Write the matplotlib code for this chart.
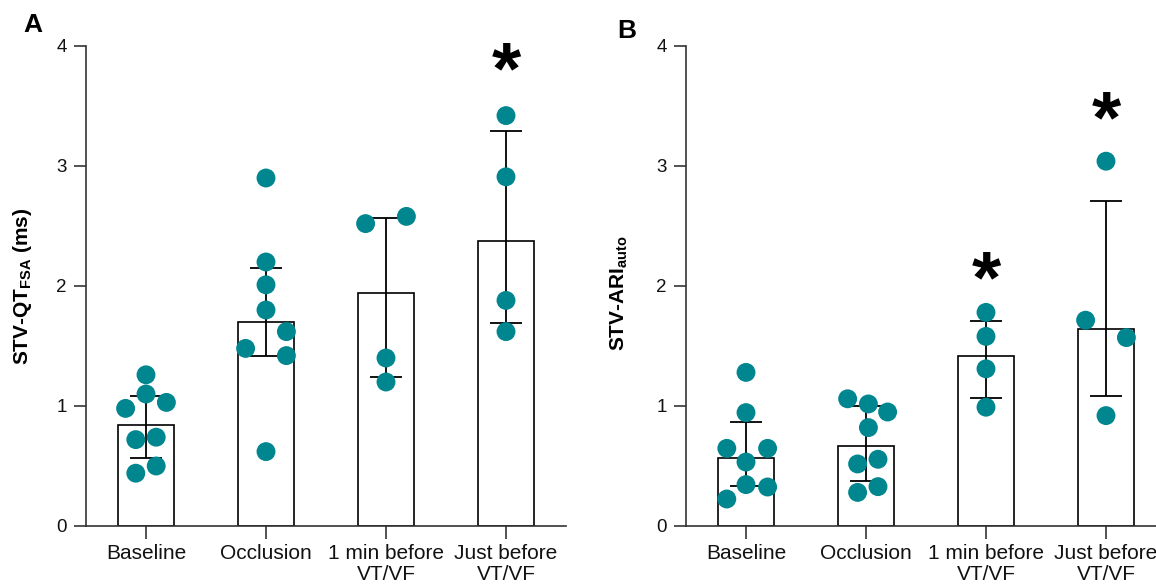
import matplotlib
matplotlib.use("Agg")
import matplotlib.pyplot as plt
import numpy as np

plt.rcParams['font.family'] = ['Liberation Sans', 'DejaVu Sans']
plt.rcParams['mathtext.fontset'] = 'custom'
plt.rcParams['mathtext.rm'] = 'Liberation Sans'
plt.rcParams['mathtext.bf'] = 'Liberation Sans:bold'

# ---------------- data ----------------
categories = ["Baseline", "Occlusion", "1 min before\nVT/VF", "Just before\nVT/VF"]

# Panel A: STV-QT_FSA (ms)
mean_A = [0.845, 1.70, 1.94, 2.375]
err_lo_A = [0.57, 1.42, 1.24, 1.69]
err_hi_A = [1.08, 2.15, 2.57, 3.29]
pts_A_baseline = [1.26, 1.10, 0.98, 1.03, 0.72, 0.74, 0.44, 0.50]
pts_A_occlusion = [2.90, 2.20, 2.01, 1.80, 1.62, 1.48, 1.42, 0.62]
pts_A_1min = [2.52, 2.58, 1.40, 1.20]
pts_A_just = [3.42, 2.91, 1.88, 1.62]
sig_A = [None, None, None, 3.90]

# Panel B: STV-ARI_auto
mean_B = [0.567, 0.664, 1.42, 1.64]
err_lo_B = [0.333, 0.378, 1.067, 1.087]
err_hi_B = [0.865, 1.00, 1.71, 2.71]
pts_B_baseline = [1.28, 0.945, 0.647, 0.647, 0.533, 0.345, 0.325, 0.225]
pts_B_occlusion = [1.06, 1.017, 0.95, 0.82, 0.556, 0.517, 0.328, 0.28]
pts_B_1min = [1.78, 1.58, 1.31, 0.99]
pts_B_just = [3.04, 1.715, 1.57, 0.92]
sig_B = [None, None, 2.16, 3.49]

# horizontal scatter offsets (layout)
jit_A = [[0, 0, -0.17, 0.17, -0.085, 0.085, -0.085, 0.085],
         [0, 0, 0, 0, 0.17, -0.17, 0.17, 0],
         [-0.17, 0.17, 0, 0],
         [0, 0, 0, 0]]
jit_B = [[0, 0, -0.16, 0.18, 0, 0, 0.18, -0.16],
         [-0.153, 0.02, 0.18, 0.02, 0.10, -0.07, 0.10, -0.07],
         [0, 0, 0, 0],
         [0, -0.17, 0.17, 0]]

TEAL = '#00868F'
SPINE = '#333333'
STAR_FS = 54

W, H = 1156, 588
fig = plt.figure(figsize=(W / 100, H / 100), dpi=100)


def make_panel(left_px, mean, lo, hi, pts, jit, sig, ylabel, ylab_x, ylab_y, letter, letter_xy):
    ax = fig.add_axes([left_px / W, 62 / H, 480 / W, 480 / H])
    x = np.arange(len(categories))
    mean = np.asarray(mean)
    ax.bar(x, mean, width=0.46, color='white', edgecolor='black', linewidth=1.2, zorder=2)
    yerr = [mean - np.asarray(lo), np.asarray(hi) - mean]
    ax.errorbar(x, mean, yerr=yerr, fmt='none', ecolor='black', elinewidth=1.3,
                capsize=11.5, capthick=1.3, zorder=3)
    for i, (vals, offs) in enumerate(zip(pts, jit)):
        ax.scatter(np.full(len(vals), i) + np.asarray(offs), vals, s=185, color=TEAL,
                   edgecolors='none', zorder=5, clip_on=False)
    for i, s in enumerate(sig):
        if s is not None:
            ax.annotate('*', xy=(i, s), xytext=(0, -0.47 * STAR_FS),
                        textcoords='offset points', ha='center', va='baseline',
                        fontsize=STAR_FS, fontweight='bold', zorder=6)
    ax.set_xlim(-0.5, 3.5)
    ax.set_ylim(0, 4)
    ax.set_yticks([0, 1, 2, 3, 4])
    ax.set_xticks(x)
    ax.set_xticklabels(categories, fontsize=15, linespacing=1.15)
    ax.tick_params(axis='y', labelsize=13.5, length=9, width=1.2, color=SPINE, pad=5,
                   labelcolor='#111111')
    ax.tick_params(axis='x', length=9, width=1.2, color=SPINE, pad=4, labelcolor='#111111')
    for sp in ['top', 'right']:
        ax.spines[sp].set_visible(False)
    for sp in ['left', 'bottom']:
        ax.spines[sp].set_color(SPINE)
        ax.spines[sp].set_linewidth(1.2)
    fig.text(ylab_x / W, 1 - ylab_y / H, ylabel, rotation=90, ha='center', va='center',
             fontsize=15, fontweight='bold')
    fig.text(letter_xy[0] / W, 1 - letter_xy[1] / H, letter, fontsize=19,
             fontweight='bold', ha='left', va='baseline')
    return ax


axA = make_panel(86, mean_A, err_lo_A, err_hi_A,
                 [pts_A_baseline, pts_A_occlusion, pts_A_1min, pts_A_just], jit_A, sig_A,
                 r'STV-QT$_{\mathbf{FSA}}$ (ms)', 23, 286, 'A', (23, 32))
axB = make_panel(686, mean_B, err_lo_B, err_hi_B,
                 [pts_B_baseline, pts_B_occlusion, pts_B_1min, pts_B_just], jit_B, sig_B,
                 r'STV-ARI$_{\mathbf{auto}}$', 619, 293, 'B', (617, 38))

fig.savefig('out.png', dpi=100)
